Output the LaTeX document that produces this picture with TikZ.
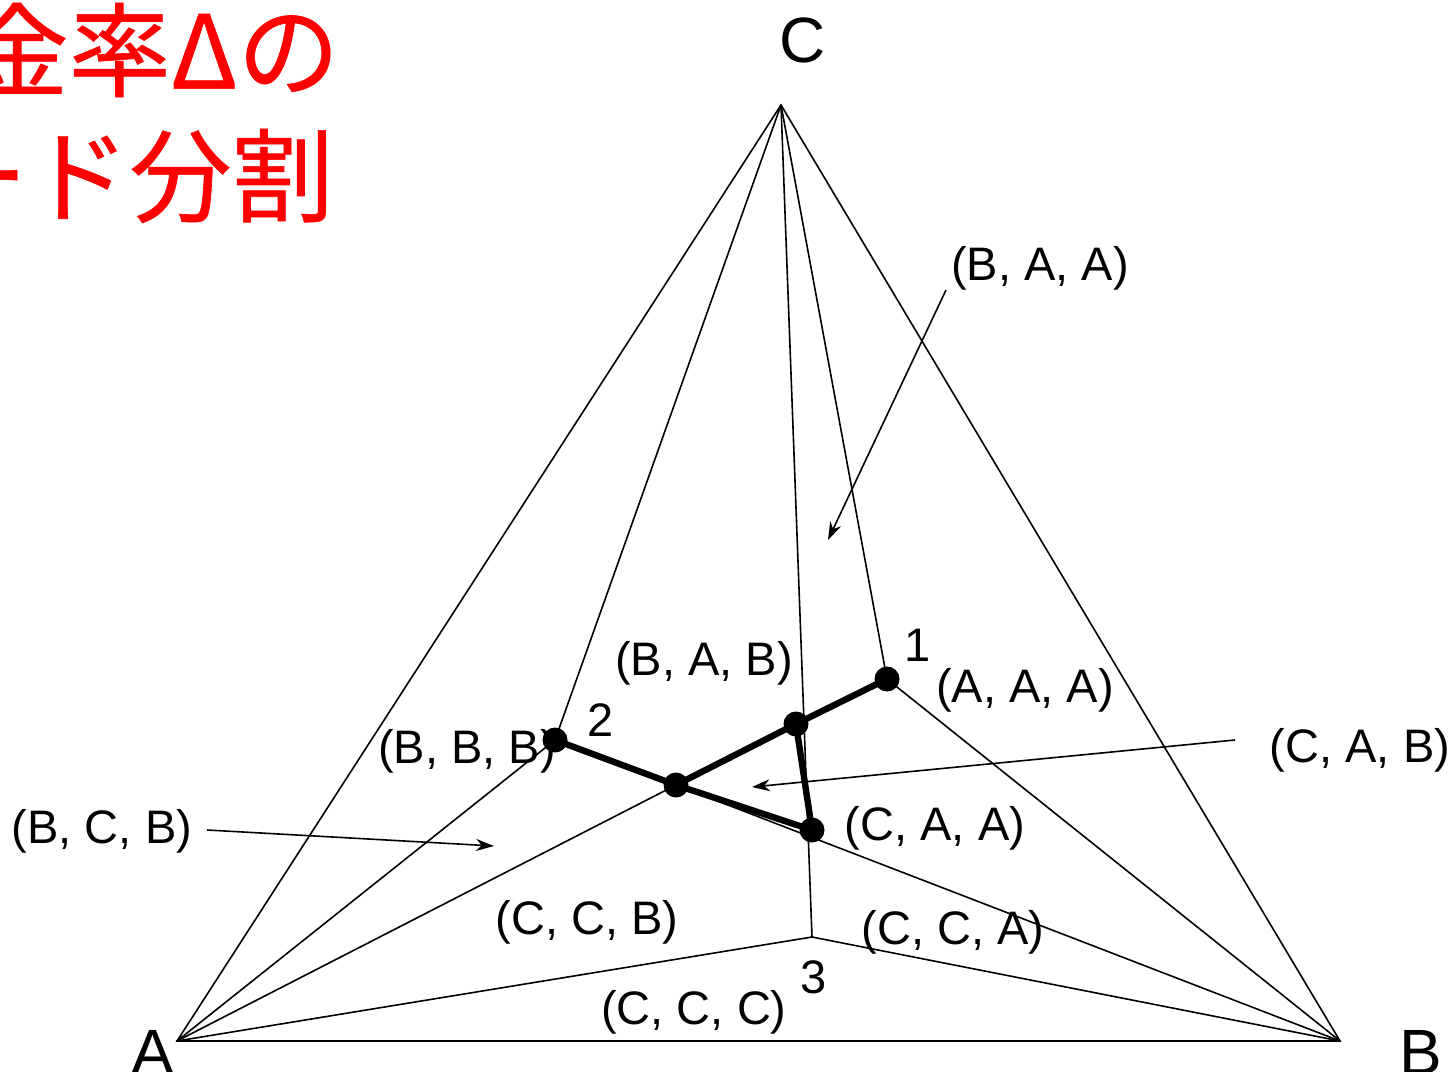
\documentclass[tikz,border=0pt]{standalone}
\usepackage{fontspec}
\setmainfont{Liberation Sans}
\newfontfamily\cjkfont[UprightFeatures={FakeBold=0.6}]{Noto Sans CJK JP}
\usetikzlibrary{arrows.meta}
\begin{document}
\begin{tikzpicture}[x=0.5pt,y=-0.5pt,
  thinline/.style={line width=0.8pt,black},
  thickline/.style={line width=3.2pt,black},
  dotnode/.style={circle,fill=black,inner sep=0pt,minimum size=12.5pt},
  lbl/.style={font=\fontsize{23.5}{27}\selectfont,inner sep=0pt},
  vlbl/.style={font=\fontsize{32}{38}\selectfont,inner sep=0pt},
  ptr/.style={line width=0.8pt,-{Stealth[length=9pt,width=6pt]}},
  redtitle/.style={font=\cjkfont\fontsize{51}{58}\selectfont,text=red,inner sep=0pt,anchor=east}]
\useasboundingbox (0,0) rectangle (1453,1072);
\clip (0,0) rectangle (1453,1072);
% title (cut off at left)
\node[redtitle] (t1) at (340,50) {金率Δの};
\node[redtitle] (t2) at (334,176) {ード分割};
% vertices
\coordinate (A) at (177,1041);
\coordinate (B) at (1340,1041);
\coordinate (C) at (781,105);
\coordinate (P1) at (887,679);
\coordinate (P2) at (555,740);
\coordinate (P3) at (812,937);
\coordinate (M) at (676,785);
\coordinate (Q) at (796,724);
\coordinate (R) at (812,830);
% thin lines
\draw[thinline] (A) -- (B) -- (C) -- cycle;
\draw[thinline] (C) -- (P2);
\draw[thinline] (C) -- (P1);
\draw[thinline] (C) -- (P3);
\draw[thinline] (A) -- (P2);
\draw[thinline] (A) -- (M);
\draw[thinline] (A) -- (P3);
\draw[thinline] (B) -- (P1);
\draw[thinline] (B) -- (M);
\draw[thinline] (B) -- (P3);
% thick lines
\draw[thickline] (P2) -- (M) -- (Q) -- (P1);
\draw[thickline] (Q) -- (R) -- (M);
\node[dotnode] (d1) at (P1) {};
\node[dotnode] (d2) at (P2) {};
\node[dotnode] (dm) at (M) {};
\node[dotnode] (dq) at (Q) {};
\node[dotnode] (dr) at (R) {};
% vertex labels
\node[vlbl] (lc) at (803,40) {C};
\node[vlbl] (la) at (153,1052) {A};
\node[vlbl] (lb) at (1421,1052) {B};
% region labels
\node[lbl] (baa) at (1040,268) {(B, A, A)};
\node[lbl] (n1) at (918,645) {1};
\node[lbl] (aaa) at (1025,690) {(A, A, A)};
\node[lbl] (bab) at (704,663) {(B, A, B)};
\node[lbl] (n2) at (601,720) {2};
\node[lbl] (bbb) at (467,751) {(B, B, B)};
\node[lbl] (cab) at (1360,750) {(C, A, B)};
\node[lbl] (bcb) at (102,831) {(B, C, B)};
\node[lbl] (caa) at (935,828) {(C, A, A)};
\node[lbl] (ccb) at (587,922) {(C, C, B)};
\node[lbl] (cca) at (953,932) {(C, C, A)};
\node[lbl] (n3) at (814,977) {3};
\node[lbl] (ccc) at (694,1012) {(C, C, C)};
% pointer arrows
\coordinate (e1) at (828,540);
\coordinate (e2) at (752,787);
\coordinate (e3) at (494,846);
\coordinate (s1) at (946,290);
\coordinate (s2) at (1235,740);
\coordinate (s3) at (207,830);
\draw[ptr] (s1) -- (e1);
\draw[ptr] (s2) -- (e2);
\draw[ptr] (s3) -- (e3);
\end{tikzpicture}
\end{document}
